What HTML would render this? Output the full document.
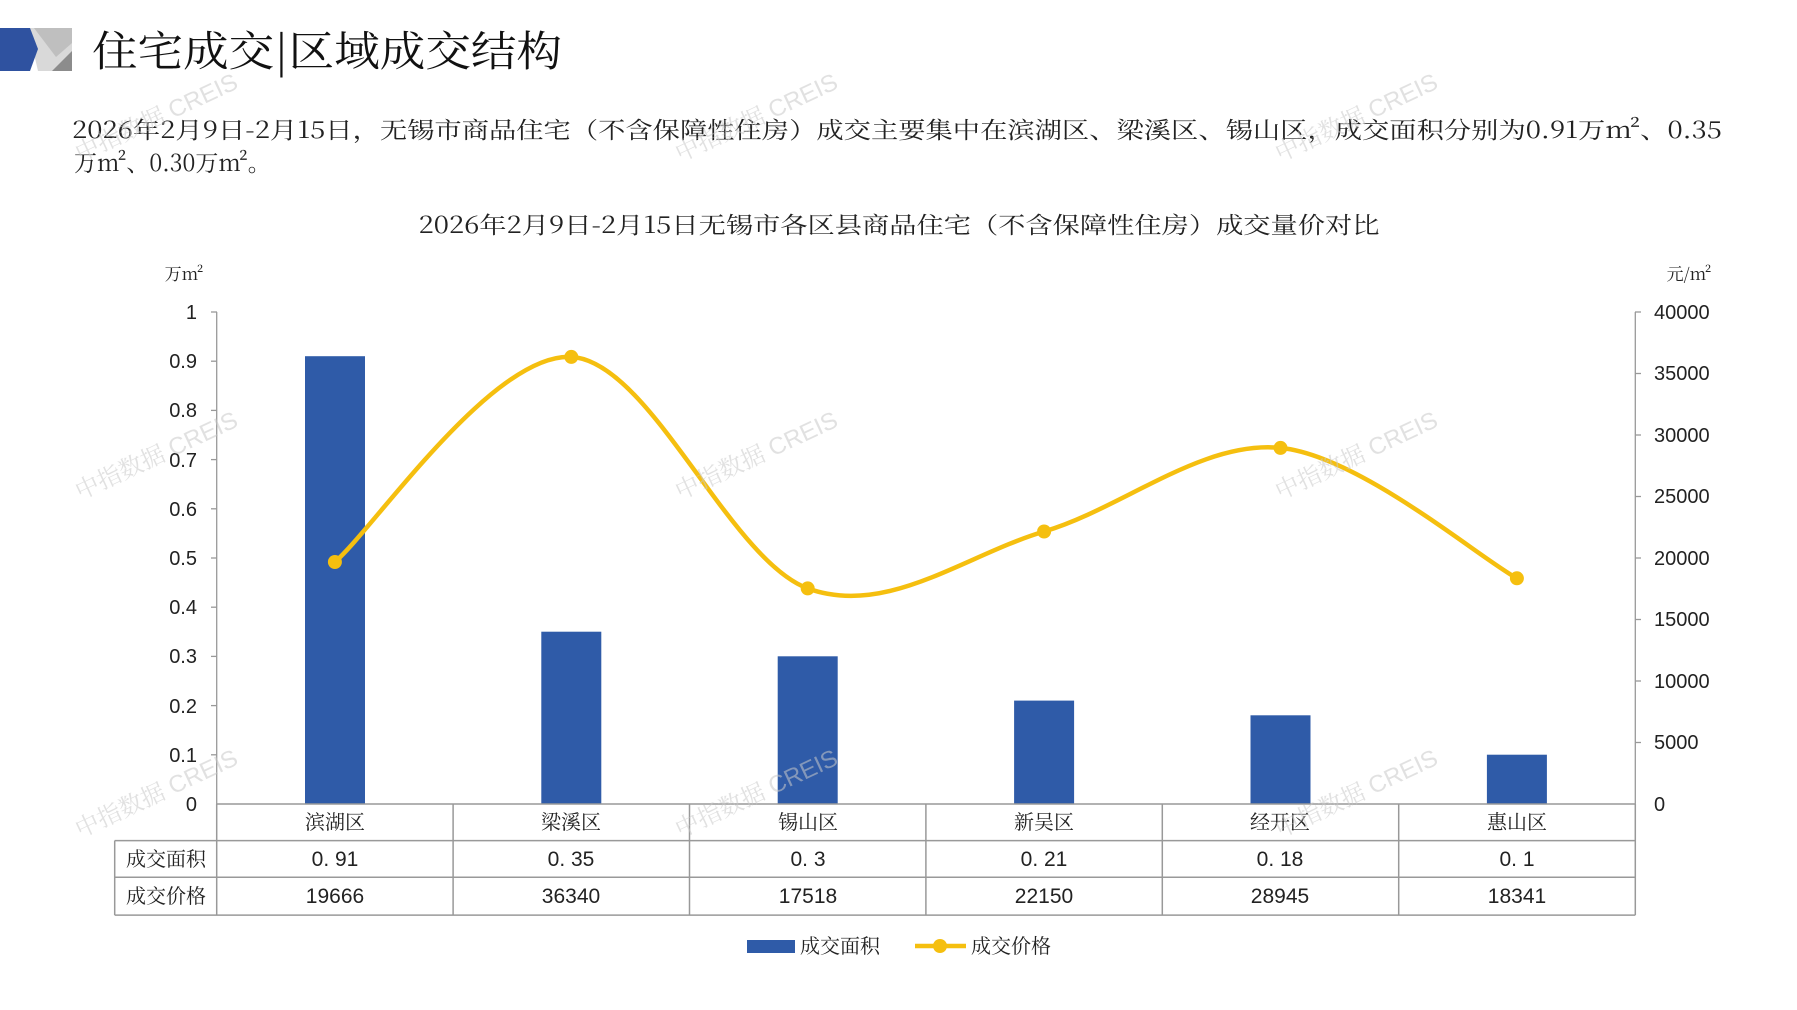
<!DOCTYPE html>
<html><head><meta charset="utf-8"><style>
html,body{margin:0;padding:0;background:#fff;}
svg{display:block;}
text{font-family:"Liberation Sans","Noto Serif CJK SC","Noto Sans CJK SC",sans-serif;}
.cj{font-family:"Noto Serif CJK SC","Liberation Sans",serif;}
</style></head><body>
<svg width="1797" height="1010" viewBox="0 0 1797 1010" xmlns="http://www.w3.org/2000/svg">
<rect width="1797" height="1010" fill="#fff"/>
<polygon points="28,28 72,28 72,71 38,71" fill="#d9d9d9"/>
<polygon points="52,71 72,51 72,71" fill="#8c8c8c"/>
<polygon points="34,28 72,28 72,43 56,57" fill="#bfbfbf"/>
<polygon points="0,28 30,28 38,49 30,71 0,71" fill="#2f52a0"/>
<text x="92" y="66" font-size="42" class="cj" fill="#111" textLength="470" lengthAdjust="spacingAndGlyphs">住宅成交|区域成交结构</text>
<text x="72" y="138" font-size="23" class="cj" fill="#222" textLength="1650" lengthAdjust="spacingAndGlyphs">2026年2月9日-2月15日，无锡市商品住宅（不含保障性住房）成交主要集中在滨湖区、梁溪区、锡山区，成交面积分别为0.91万m²、0.35</text>
<text x="74" y="171" font-size="23" class="cj" fill="#222">万m²、0.30万m²。</text>
<text x="899" y="233" font-size="23" class="cj" fill="#222" text-anchor="middle" textLength="961" lengthAdjust="spacingAndGlyphs">2026年2月9日-2月15日无锡市各区县商品住宅（不含保障性住房）成交量价对比</text>
<text x="184" y="280" font-size="17" class="cj" fill="#222" text-anchor="middle">万m²</text>
<text x="1689" y="280" font-size="17" class="cj" fill="#222" text-anchor="middle">元/m²</text>
<g stroke="#999" stroke-width="1.3" fill="none">
<line x1="216.7" y1="312" x2="216.7" y2="804"/>
<line x1="1635.3" y1="312" x2="1635.3" y2="804"/>
</g>
<g stroke="#999" stroke-width="1.3">
<line x1="211" y1="312" x2="217" y2="312"/><line x1="211" y1="361.2" x2="217" y2="361.2"/><line x1="211" y1="410.4" x2="217" y2="410.4"/><line x1="211" y1="459.6" x2="217" y2="459.6"/><line x1="211" y1="508.8" x2="217" y2="508.8"/><line x1="211" y1="558" x2="217" y2="558"/><line x1="211" y1="607.2" x2="217" y2="607.2"/><line x1="211" y1="656.4" x2="217" y2="656.4"/><line x1="211" y1="705.6" x2="217" y2="705.6"/><line x1="211" y1="754.8" x2="217" y2="754.8"/>
<line x1="1635" y1="312" x2="1641" y2="312"/><line x1="1635" y1="373.5" x2="1641" y2="373.5"/><line x1="1635" y1="435" x2="1641" y2="435"/><line x1="1635" y1="496.5" x2="1641" y2="496.5"/><line x1="1635" y1="558" x2="1641" y2="558"/><line x1="1635" y1="619.5" x2="1641" y2="619.5"/><line x1="1635" y1="681" x2="1641" y2="681"/><line x1="1635" y1="742.5" x2="1641" y2="742.5"/>
</g>
<g font-size="20" fill="#222" text-anchor="end">
<text x="197" y="319">1</text><text x="197" y="368">0.9</text><text x="197" y="417">0.8</text><text x="197" y="467">0.7</text><text x="197" y="516">0.6</text><text x="197" y="565">0.5</text><text x="197" y="614">0.4</text><text x="197" y="663">0.3</text><text x="197" y="713">0.2</text><text x="197" y="762">0.1</text><text x="197" y="811">0</text>
</g>
<g font-size="20" fill="#222">
<text x="1654" y="319">40000</text><text x="1654" y="380">35000</text><text x="1654" y="442">30000</text><text x="1654" y="503">25000</text><text x="1654" y="565">20000</text><text x="1654" y="626">15000</text><text x="1654" y="688">10000</text><text x="1654" y="749">5000</text><text x="1654" y="811">0</text>
</g>
<g fill="#2f5ba8">
<rect x="305" y="356.2" width="60" height="447.7"/>
<rect x="541.3" y="631.7" width="60" height="172.2"/>
<rect x="777.7" y="656.3" width="60" height="147.6"/>
<rect x="1014.1" y="700.6" width="60" height="103.3"/>
<rect x="1250.5" y="715.3" width="60" height="88.6"/>
<rect x="1486.9" y="754.7" width="60" height="49.2"/>
</g>
<path d="M334.9,562 C374.3,527.8 492.5,352.5 571.3,356.9 C650.1,361.3 728.9,559.3 807.7,588.4 C886.5,617.5 965.3,554.9 1044.1,531.5 C1122.9,508.1 1201.7,440.1 1280.5,447.9 C1359.3,455.7 1477.5,556.6 1516.9,578.3" fill="none" stroke="#f5bf0f" stroke-width="4.5"/>
<g fill="#f5bf0f">
<circle cx="334.9" cy="562" r="7"/><circle cx="571.3" cy="356.9" r="7"/><circle cx="807.7" cy="588.4" r="7"/><circle cx="1044.1" cy="531.5" r="7"/><circle cx="1280.5" cy="447.9" r="7"/><circle cx="1516.9" cy="578.3" r="7"/>
</g>
<g stroke="#999" stroke-width="1.5" fill="none">
<line x1="216.7" y1="804" x2="1635.3" y2="804"/>
<line x1="114.7" y1="840.6" x2="1635.3" y2="840.6"/>
<line x1="114.7" y1="877.3" x2="1635.3" y2="877.3"/>
<line x1="114.7" y1="915.1" x2="1635.3" y2="915.1"/>
<line x1="114.7" y1="840.6" x2="114.7" y2="915.1"/>
<line x1="216.7" y1="804" x2="216.7" y2="915.1"/>
<line x1="453.1" y1="804" x2="453.1" y2="915.1"/>
<line x1="689.5" y1="804" x2="689.5" y2="915.1"/>
<line x1="925.9" y1="804" x2="925.9" y2="915.1"/>
<line x1="1162.3" y1="804" x2="1162.3" y2="915.1"/>
<line x1="1398.7" y1="804" x2="1398.7" y2="915.1"/>
<line x1="1635.3" y1="804" x2="1635.3" y2="915.1"/>
</g>
<g font-size="20" fill="#222" text-anchor="middle" class="cj">
<text x="335" y="829">滨湖区</text><text x="571" y="829">梁溪区</text><text x="808" y="829">锡山区</text><text x="1044" y="829">新吴区</text><text x="1280" y="829">经开区</text><text x="1517" y="829">惠山区</text>
<text x="166" y="866">成交面积</text><text x="166" y="903">成交价格</text>
</g>
<g font-size="21" fill="#222" text-anchor="middle">
<text x="335" y="866">0. 91</text><text x="571" y="866">0. 35</text><text x="808" y="866">0. 3</text><text x="1044" y="866">0. 21</text><text x="1280" y="866">0. 18</text><text x="1517" y="866">0. 1</text>
<text x="335" y="903">19666</text><text x="571" y="903">36340</text><text x="808" y="903">17518</text><text x="1044" y="903">22150</text><text x="1280" y="903">28945</text><text x="1517" y="903">18341</text>
</g>
<rect x="747" y="940" width="48" height="13" fill="#2f5ba8"/>
<text x="800" y="953" font-size="20" class="cj" fill="#222">成交面积</text>
<line x1="915" y1="946" x2="966" y2="946" stroke="#f5bf0f" stroke-width="4.5"/>
<circle cx="940" cy="946" r="7" fill="#f5bf0f"/>
<text x="971" y="953" font-size="20" class="cj" fill="#222">成交价格</text>
<g font-size="24" fill="#c8c8c8" fill-opacity="0.55" class="cj">
<text transform="translate(80,162) rotate(-25)">中指数据 CREIS</text>
<text transform="translate(680,162) rotate(-25)">中指数据 CREIS</text>
<text transform="translate(1280,162) rotate(-25)">中指数据 CREIS</text>
<text transform="translate(80,500) rotate(-25)">中指数据 CREIS</text>
<text transform="translate(680,500) rotate(-25)">中指数据 CREIS</text>
<text transform="translate(1280,500) rotate(-25)">中指数据 CREIS</text>
<text transform="translate(80,838) rotate(-25)">中指数据 CREIS</text>
<text transform="translate(680,838) rotate(-25)">中指数据 CREIS</text>
<text transform="translate(1280,838) rotate(-25)">中指数据 CREIS</text>
</g>
</svg>
</body></html>
